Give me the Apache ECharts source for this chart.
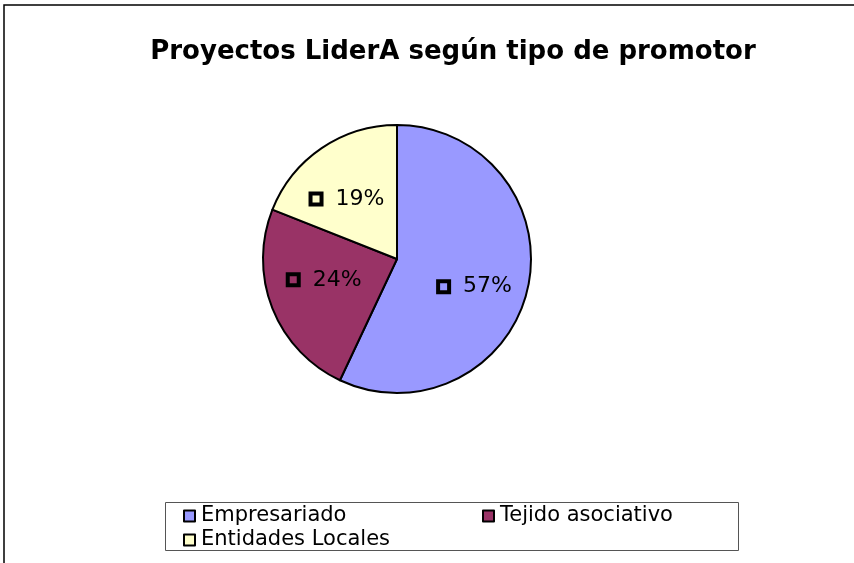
<!DOCTYPE html>
<html>
<head>
<meta charset="utf-8">
<script src="https://cdn.jsdelivr.net/npm/echarts@6/dist/echarts.min.js"></script>
<style>html,body{margin:0;padding:0;background:#fff}#c{width:854px;height:563px}</style>
</head>
<body>
<div id="c"></div>
<script>
var titleText = 'Proyectos LiderA según tipo de promotor';
var categories = ['Empresariado', 'Tejido asociativo', 'Entidades Locales'];
var values = [57, 24, 19];
var colors = ['#9999FF', '#993366', '#FFFFCC'];
// label nudges (style only, pixels) to mimic the original label placement
var labelOffsets = [[-1, 10], [3, -9], [-4, 7]];

var FONT = '"DejaVu Sans", "Liberation Sans", Arial, sans-serif';
var pieData = categories.map(function (c, i) {
  return { name: c, value: values[i], itemStyle: { color: colors[i] } };
});
var labelData = categories.map(function (c, i) {
  return { name: c, value: values[i], label: { offset: labelOffsets[i] } };
});

var legendText = { fontFamily: FONT, fontSize: 21, color: '#000', width: 270, lineHeight: 24, padding: [0, 0, 0, 1] };
function mkLegend(names, top) {
  return {
    data: names,
    left: 183,
    top: top,
    orient: 'horizontal',
    itemWidth: 11,
    itemHeight: 11,
    itemGap: 11,
    padding: 0,
    icon: 'rect',
    selectedMode: false,
    itemStyle: { borderColor: '#000', borderWidth: 2 },
    textStyle: legendText
  };
}

var chart = echarts.init(document.getElementById('c'), null, { renderer: 'canvas' });
chart.setOption({
  backgroundColor: '#fff',
  animation: false,
  title: {
    text: titleText,
    left: 448,
    top: 34,
    textAlign: 'center',
    textStyle: { fontFamily: FONT, fontWeight: 'bold', fontSize: 26, color: '#000' }
  },
  graphic: [
    { type: 'rect', shape: { x: 4, y: 5, width: 900, height: 600 }, style: { fill: 'none', stroke: '#000', lineWidth: 1.5 }, z: 100, silent: true },
    { type: 'rect', shape: { x: 165.5, y: 502.5, width: 573, height: 48 }, style: { fill: 'none', stroke: '#555', lineWidth: 1 }, z: 100, silent: true }
  ],
  legend: [
    mkLegend(categories.slice(0, 2), 504),
    mkLegend(categories.slice(2), 528)
  ],
  series: [
    {
      type: 'pie',
      center: [397, 259],
      radius: [0, 134],
      startAngle: 90,
      clockwise: true,
      silent: true,
      itemStyle: { borderColor: '#000', borderWidth: 2 },
      label: { show: false },
      labelLine: { show: false },
      data: pieData
    },
    {
      type: 'pie',
      center: [397, 259],
      radius: [22, 134],
      startAngle: 90,
      clockwise: true,
      silent: true,
      itemStyle: { color: 'rgba(0,0,0,0)', borderWidth: 0 },
      label: {
        show: true,
        position: 'inside',
        formatter: '{sq|}{t|  {d}%}',
        rich: {
          sq: { width: 11, height: 11, borderColor: '#000', borderWidth: 2, backgroundColor: 'transparent' },
          t: { fontFamily: FONT, fontSize: 22, color: '#000' }
        }
      },
      labelLine: { show: false },
      data: labelData
    }
  ]
});
</script>
</body>
</html>
